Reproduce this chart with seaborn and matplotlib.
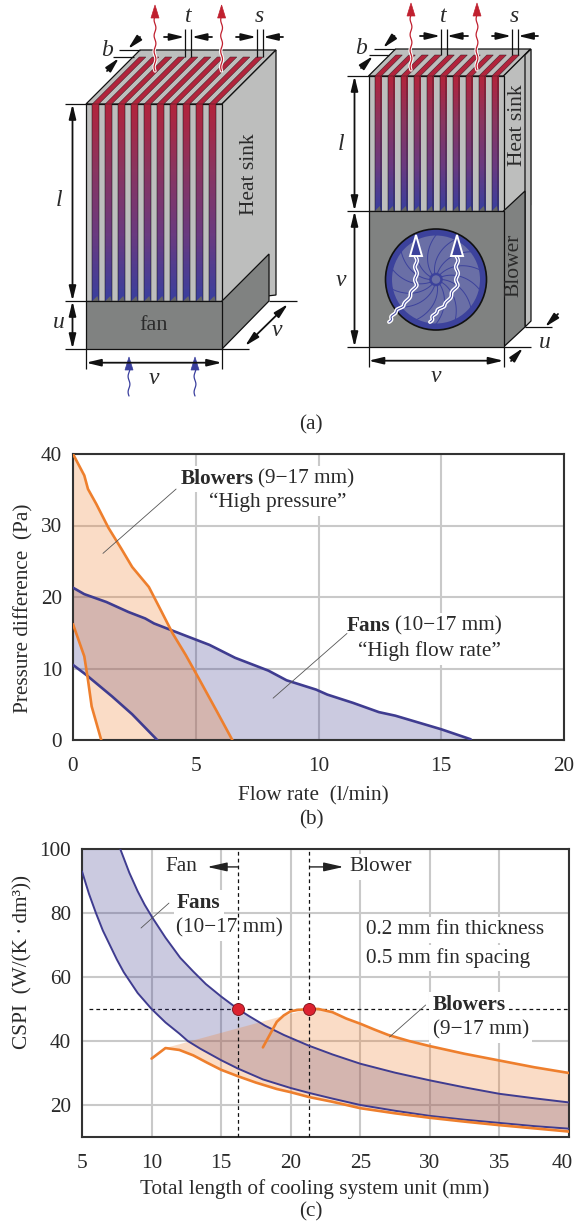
import numpy as np
import seaborn as sns
import matplotlib.pyplot as plt
from matplotlib.colors import LinearSegmentedColormap
from matplotlib.patches import Polygon, Circle, Rectangle
from matplotlib.transforms import ScaledTranslation

# (b) pressure vs flow
blow_up_q = [0, 0.46, 0.61, 0.95, 1.44, 1.96, 2.41, 3.09, 3.6, 4.06, 4.59, 5.11, 5.86, 6.49]
blow_up_p = [40, 37, 35.1, 33, 29.7, 26.8, 24.2, 21.4, 18, 14.9, 11.9, 8.7, 4, 0]
blow_lo_q = [0, 0.46, 0.61, 0.76, 1.15]
blow_lo_p = [16.2, 11.7, 8.4, 4.7, 0]
fan_up_q = [0, 0.46, 1.36, 2.26, 2.94, 3.3, 4.5, 5.56, 6.6, 7.96, 8.7, 9.9, 10.36, 11.4, 12.46, 13.13, 15, 16.2]
fan_up_p = [21.3, 20.4, 19.3, 17.9, 17, 16.3, 14.7, 13.3, 11.5, 9.7, 8.35, 7.05, 6.35, 5.2, 3.9, 3.4, 1.5, 0.1]
fan_lo_q = [0, 0.54, 1.59, 2.41, 3.43]
fan_lo_p = [10.5, 9.1, 6.1, 3.6, 0]

# (c) CSPI vs length
c_fan_up_x = [7.75, 8.4, 9, 9.5, 10.08, 11, 12.06, 13, 13.9, 15, 16.2, 17, 18.15, 19.5, 21.27, 23, 25,
              27.5, 30, 32.5, 35, 37.5, 40]
c_fan_up_y = [100, 92.6, 86.8, 82.6, 78.4, 72.3, 66, 61.7, 57.8, 53.9, 50, 47.8, 44.8, 41.9, 38.6, 35.8, 32.9,
              30.1, 27.7, 25.5, 23.5, 22.1, 20.8]
c_fan_lo_x = [5, 5.5, 6, 6.5, 7, 7.5, 8, 9, 10, 11, 12, 12.6, 13.5, 15, 16.2, 18, 20, 21.3, 23, 25,
              27.5, 30, 32.5, 35, 37.5, 40]
c_fan_lo_y = [93, 86, 80, 74.5, 70, 65.5, 61.5, 55, 50, 45.8, 42.3, 40, 37.6, 34, 31.4, 28, 25.3, 23.8, 22, 20,
              18.2, 16.6, 15.4, 14.4, 13.4, 12.6]
c_blow_up_x = [18, 18.5, 19, 19.5, 20, 20.5, 21.3, 22, 23, 24, 25, 26, 27, 28.5, 30, 32.5, 35, 37.5, 40]
c_blow_up_y = [38, 42, 46, 48, 49.3, 49.7, 50, 50, 49, 47, 45.4, 43.6, 41.9, 40, 38.4, 36, 33.9, 31.8, 30]
c_blow_lo_x = [10, 11, 12, 13, 14, 15, 16.2, 17.5, 19, 20, 21.3, 23, 25, 27.5, 30, 32.5, 35, 37.5, 40]
c_blow_lo_y = [34.5, 37.8, 37.2, 35.5, 33.2, 31, 29, 27, 25, 24, 22.5, 21, 19, 17.4, 16, 14.8, 13.7, 12.7, 11.7]
opt_x = [16.2, 21.3]
opt_y = [50, 50]

ORANGE = '#ee7f2d'
NAVY = '#3f3c90'
GREY = '#bdbebd'
DARK = '#808281'
RED = '#b2243c'
TXT = '#2a2a2a'

sns.set_style('white')
plt.rcParams['font.family'] = ['Liberation Serif', 'DejaVu Sans']
plt.rcParams['font.size'] = 15.3

W, H = 577, 1225
fig = plt.figure(figsize=(W / 100, H / 100), dpi=100)

# whole-figure axes in pixels, used for the drawing in (a)
ax0 = fig.add_axes([0, 0, 1, 1])
ax0.set_xlim(0, W)
ax0.set_ylim(H, 0)
ax0.axis('off')

grad = LinearSegmentedColormap.from_list('fin', [RED, '#8a3560', '#6a3a80', '#3a3f9e'])
ramp = np.linspace(0, 1, 64).reshape(-1, 1)


def poly(pts, fc, ec='#111111', lw=0.9, z=2):
    ax0.add_patch(Polygon(pts, closed=True, fc=fc, ec=ec, lw=lw, zorder=z))


def seg(x0, y0, x1, y1, lw=0.9):
    ax0.plot([x0, x1], [y0, y1], color='#111111', lw=lw, zorder=6, solid_capstyle='butt')


def arrow(x0, y0, x1, y1, style='-|>', lw=1.3):
    ax0.annotate('', xy=(x1, y1), xytext=(x0, y0), zorder=7,
                 arrowprops=dict(arrowstyle=style + ',head_length=0.58,head_width=0.14',
                                 mutation_scale=15, color='#111111', lw=lw,
                                 shrinkA=0, shrinkB=0))


def label(x, y, s, **kw):
    ax0.text(x, y, s, ha='center', va='center', zorder=8, color=TXT, **kw)


def up_arrow(x, y0, y1, color):
    yy = np.linspace(y0, y1 + 12, 50)
    xx = x + 0.9 * np.sin((yy - y0) * 0.4)
    ax0.plot(xx, yy, color='white', lw=2.4, zorder=4)
    ax0.plot(xx, yy, color=color, lw=0.9, zorder=5)
    poly([(x, y1), (x - 4, y1 + 13), (x + 4, y1 + 13)], color, ec=color, lw=0.5, z=5)


def sink(x0, x1, top, bot, depth, slot_back):
    # top face, side face, then the fin channels
    poly([(x0, top), (x0 + depth, top - depth), (x1 + depth, top - depth), (x1, top)], GREY)
    poly([(x1, top), (x1 + depth, top - depth), (x1 + depth, bot - 6), (x1, bot)], GREY)
    ax0.add_patch(Rectangle((x0, top), x1 - x0, bot - top, fc=GREY, ec='#111111', lw=0.9, zorder=2))
    for k in range(10):
        cx = x0 + 6.3 + 13 * k
        ax0.imshow(ramp, cmap=grad, extent=(cx, cx + 6.5, bot, top), aspect='auto', zorder=3)
        for xx in (cx, cx + 6.5):
            seg(xx, top, xx, bot, 0.35)
        poly([(cx, top), (cx + 6.5, top), (cx + 6.5 + slot_back, top - slot_back),
              (cx + slot_back, top - slot_back)], RED, ec='#3a1a22', lw=0.35, z=3)
        ax0.add_patch(Polygon([(cx, bot), (cx + 5, bot - 5), (cx + 6.5, bot)], fc='#666666', ec='none', zorder=4))


# fan unit
sink(86, 222, 104, 301, 54, 47)
poly([(222, 301), (269, 254), (269, 301), (222, 349)], DARK)
ax0.add_patch(Rectangle((86, 301), 136, 48, fc=DARK, ec='#111111', lw=0.9, zorder=4))
label(154, 325, 'fan', fontsize=16)
label(249, 174, 'Heat sink', rotation=90, fontsize=15.5)

for yy in (104, 301, 349):
    seg(65, yy, 86, yy)
arrow(72.5, 104, 72.5, 301, '<|-|>')
arrow(72.5, 301, 72.5, 349, '<|-|>')
label(59, 201, 'l', style='italic', fontsize=17)
label(59, 323, 'u', style='italic', fontsize=17)
for xx in (86, 222):
    seg(xx, 349, xx, 369)
arrow(86, 362.7, 222, 362.7, '<|-|>')
label(154, 378, 'v', style='italic', fontsize=17)
seg(222, 349, 249, 349)
seg(269, 301, 297, 301)
arrow(245, 346, 288, 304, '<|-|>')
label(277, 330, 'v', style='italic', fontsize=17)
for xx in (129, 195):
    up_arrow(xx, 396, 357, '#3a3f9e')
for xx in (155, 221.6):
    up_arrow(xx, 71, 5, '#c0202f')
seg(184.8, 29, 184.8, 57)
seg(191.4, 29, 191.4, 57)
arrow(164, 37, 184.5, 37)
arrow(212, 37, 191.7, 37)
label(188, 17, 't', style='italic', fontsize=17)
seg(256.5, 29, 256.5, 57)
seg(262.8, 29, 262.8, 57)
arrow(236, 37, 256.2, 37)
arrow(283, 37, 263.1, 37)
label(259, 17, 's', style='italic', fontsize=17)
seg(119, 50, 140, 50)
seg(113, 57, 134, 57)
arrow(140, 37, 128, 49)
arrow(107, 71, 119, 58)
label(107, 50, 'b', style='italic', fontsize=17)

# blower unit
sink(368.5, 503.5, 76, 211, 27, 21)
poly([(503.5, 211), (525, 191), (525, 327), (503.5, 347)], DARK, z=4)
poly([(525, 327), (531, 321), (531, 49), (525, 55)], GREY, z=3)
ax0.add_patch(Rectangle((368.5, 211), 135, 136, fc=DARK, ec='#111111', lw=0.9, zorder=4))
ax0.add_patch(Circle((436, 279.5), 50.5, fc='#3c429c', ec='#111111', lw=1.2, zorder=5))
ax0.add_patch(Circle((436, 279.5), 44, fc='#6a6fa6', ec='none', zorder=5))
for k in range(14):
    rr = np.linspace(6, 46, 20)
    th = 2 * np.pi * k / 14 + 0.7 * (rr - 6) / 40
    ax0.plot(436 + rr * np.cos(th), 279.5 + rr * np.sin(th), color='#3c429c', lw=0.7, zorder=5)
ax0.add_patch(Circle((436, 279.5), 5.5, fc='#6a6fa6', ec='#3c429c', lw=1.8, zorder=5))
for x_tail, x_head in ((389, 416), (430, 457)):
    tt = np.linspace(0, 1, 80)
    xx = np.interp(tt, [0, 0.2, 0.4, 0.65, 1], [x_tail, x_tail + 6, x_tail + 16, x_head, x_head])
    yy = np.interp(tt, [0, 0.2, 0.4, 0.65, 1], [322, 312, 304, 285, 255])
    xx = xx + 1.1 * np.sin(tt * 42)
    ax0.plot(xx, yy, color='white', lw=2.8, zorder=6)
    ax0.plot(xx, yy, color='#3c429c', lw=0.7, zorder=6)
    poly([(x_head, 235), (x_head - 6, 256), (x_head + 6, 256)], '#3c429c', ec='white', lw=1.4, z=6)
label(517, 125, 'Heat sink', rotation=90, fontsize=15.5)
label(514, 265, 'Blower', rotation=90, fontsize=15.5)

for yy in (76, 211, 347):
    seg(347, yy, 368.5, yy)
arrow(354.5, 76, 354.5, 211, '<|-|>')
arrow(354.5, 211, 354.5, 347, '<|-|>')
label(341, 144, 'l', style='italic', fontsize=17)
label(341, 281, 'v', style='italic', fontsize=17)
for xx in (368.5, 503.5):
    seg(xx, 347, xx, 367)
arrow(368.5, 360.7, 503.5, 360.7, '<|-|>')
label(436, 376, 'v', style='italic', fontsize=17)
seg(525, 327, 552, 327)
seg(503.5, 347, 531, 347)
arrow(558, 314, 545, 327)
arrow(511, 361, 523, 348)
label(545, 343, 'u', style='italic', fontsize=17)
for xx in (411, 477):
    up_arrow(xx, 70, 3, '#c0202f')
seg(440.6, 29, 440.6, 55)
seg(446.5, 29, 446.5, 55)
arrow(420, 36, 440.3, 36)
arrow(468, 36, 446.8, 36)
label(443, 16, 't', style='italic', fontsize=17)
seg(511.6, 29, 511.6, 55)
seg(517.8, 29, 517.8, 55)
arrow(492, 36, 511.3, 36)
arrow(538, 36, 518.1, 36)
label(514, 16, 's', style='italic', fontsize=17)
seg(374, 49, 395, 49)
seg(368.5, 55, 389, 55)
arrow(394.5, 36, 383, 48)
arrow(361, 68, 373, 56)
label(361, 49, 'b', style='italic', fontsize=17)

label(311, 425, '(a)')
label(311, 820, '(b)')
label(311, 1212, '(c)')


def chart(x0, x1, y0, y1):
    ax = fig.add_axes([x0 / W, 1 - y1 / H, (x1 - x0) / W, (y1 - y0) / H])
    ax.grid(True, color='#c9c9c9', lw=1.5, zorder=1)
    ax.set_axisbelow(True)
    for sp in ax.spines.values():
        sp.set_color('#333333')
        sp.set_linewidth(1.5)
        sp.set_visible(True)
    ax.tick_params(axis='x', length=0, labelsize=15.3, colors=TXT, pad=12.5)
    ax.tick_params(axis='y', length=0, labelsize=15.3, colors=TXT, pad=8)
    return ax


BOX = dict(fc='white', ec='none', pad=2.5)


def note(ax, x, y, s, **kw):
    ax.text(x, y, s, va='center', color=TXT, zorder=1.5, bbox=BOX, **kw)


# (b)
ax1 = chart(73, 564, 454, 740)
ax1.fill(fan_up_q + fan_lo_q[::-1], fan_up_p + fan_lo_p[::-1], color=NAVY, alpha=0.27, lw=0, zorder=2)
ax1.fill(blow_up_q + blow_lo_q[::-1], blow_up_p + blow_lo_p[::-1], color=ORANGE, alpha=0.27, lw=0, zorder=2)
for qq, pp, col in ((fan_up_q, fan_up_p, NAVY), (fan_lo_q, fan_lo_p, NAVY),
                    (blow_up_q, blow_up_p, ORANGE), (blow_lo_q, blow_lo_p, ORANGE)):
    sns.lineplot(x=qq, y=pp, ax=ax1, color=col, lw=1.9, zorder=3)
ax1.set_xlim(0, 20)
ax1.set_ylim(0, 40)
ax1.set_xticks(range(0, 21, 5))
ax1.set_yticks(range(0, 41, 10))
ax1.set_xlabel('Flow rate  (l/min)', fontsize=15.3, color=TXT, labelpad=7, x=0.49)
ax1.set_ylabel('Pressure difference  (Pa)', fontsize=15.3, color=TXT, labelpad=5, y=0.46)
note(ax1, 4.4, 36.5, 'Blowers', fontweight='bold')
note(ax1, 7.54, 36.5, '(9\u221217 mm)')
note(ax1, 5.54, 33.2, '\u201cHigh pressure\u201d')
note(ax1, 11.16, 15.9, 'Fans', fontweight='bold')
note(ax1, 13.1, 15.9, '(10\u221217 mm)')
note(ax1, 11.6, 12.4, '\u201cHigh flow rate\u201d')
ax1.plot([4.2, 1.22], [35.1, 26.1], color='#555555', lw=0.6, zorder=4)
ax1.plot([11.16, 8.15], [14.9, 5.85], color='#555555', lw=0.6, zorder=4)

# (c)
ax2 = chart(82, 569, 849, 1137)
fan_x = np.r_[5, c_fan_up_x, c_fan_lo_x[::-1]]
fan_y = np.r_[100, c_fan_up_y, c_fan_lo_y[::-1]]
ax2.fill(fan_x, fan_y, color=NAVY, alpha=0.27, lw=0, zorder=2)
up_x, up_y = np.array(c_blow_up_x), np.array(c_blow_up_y)
lo_x, lo_y = np.array(c_blow_lo_x), np.array(c_blow_lo_y)
blow_x = np.r_[up_x[up_x >= 21.3], lo_x[lo_x >= 11][::-1]]
blow_y = np.r_[up_y[up_x >= 21.3], lo_y[lo_x >= 11][::-1]]
ax2.fill(blow_x, blow_y, color=ORANGE, alpha=0.27, lw=0, zorder=2)
ax2.axhline(50, xmin=0.015, color='#111111', lw=0.9, ls=(0, (3, 2.5)), zorder=1.4)
for xx in opt_x:
    ax2.axvline(xx, color='#111111', lw=0.9, ls=(0, (3, 2.5)), zorder=3)
for xx, yy, col, lw in ((c_fan_up_x, c_fan_up_y, NAVY, 1.4), (c_fan_lo_x, c_fan_lo_y, NAVY, 1.4),
                        (c_blow_up_x, c_blow_up_y, ORANGE, 1.9), (c_blow_lo_x, c_blow_lo_y, ORANGE, 1.9)):
    sns.lineplot(x=xx, y=yy, ax=ax2, color=col, lw=lw, zorder=3)
sns.scatterplot(x=opt_x, y=opt_y, ax=ax2, color='#dc2230', edgecolor='#7a1018', s=75, lw=0.6, zorder=5)
ax2.set_xlim(5, 40)
ax2.set_ylim(10, 100)
ax2.set_xticks(range(5, 41, 5))
ax2.set_yticks(range(20, 101, 20))
# last tick label would run past the figure edge, nudge it in
last = ax2.get_xticklabels()[-1]
last.set_transform(last.get_transform() + ScaledTranslation(-5 / 72, 0, fig.dpi_scale_trans))
ax2.set_xlabel('Total length of cooling system unit (mm)', fontsize=15.3, color=TXT, labelpad=4, x=0.477)
ax2.set_ylabel('CSPI  (W/(K\u2009\u00b7\u2009dm\u00b3))', fontsize=15.3, color=TXT, labelpad=5, y=0.608)
note(ax2, 11.83, 83.1, 'Fans', fontweight='bold')
note(ax2, 11.76, 75.3, '(10\u221217 mm)')
note(ax2, 25.4, 74.7, '0.2 mm fin thickness')
note(ax2, 25.4, 65.9, '0.5 mm fin spacing')
note(ax2, 30.2, 51.25, 'Blowers', fontweight='bold')
note(ax2, 30.2, 43.4, '(9\u221217 mm)')
note(ax2, 11, 94.4, 'Fan')
note(ax2, 24.2, 94.4, 'Blower')
ax2.plot([11.25, 9.24], [83.1, 75.3], color='#555555', lw=0.6, zorder=4)
ax2.plot([29.7, 27.1], [51.25, 41.25], color='#555555', lw=0.6, zorder=4)
for a, b in ((16.2, 14.0), (21.4, 23.8)):
    ax2.annotate('', xy=(b, 94.4), xytext=(a, 94.4), zorder=4,
                 arrowprops=dict(arrowstyle='-|>,head_length=0.8,head_width=0.18', mutation_scale=15,
                                 color='#222222', lw=1, shrinkA=0, shrinkB=0))

fig.savefig('out.png', dpi=100)
